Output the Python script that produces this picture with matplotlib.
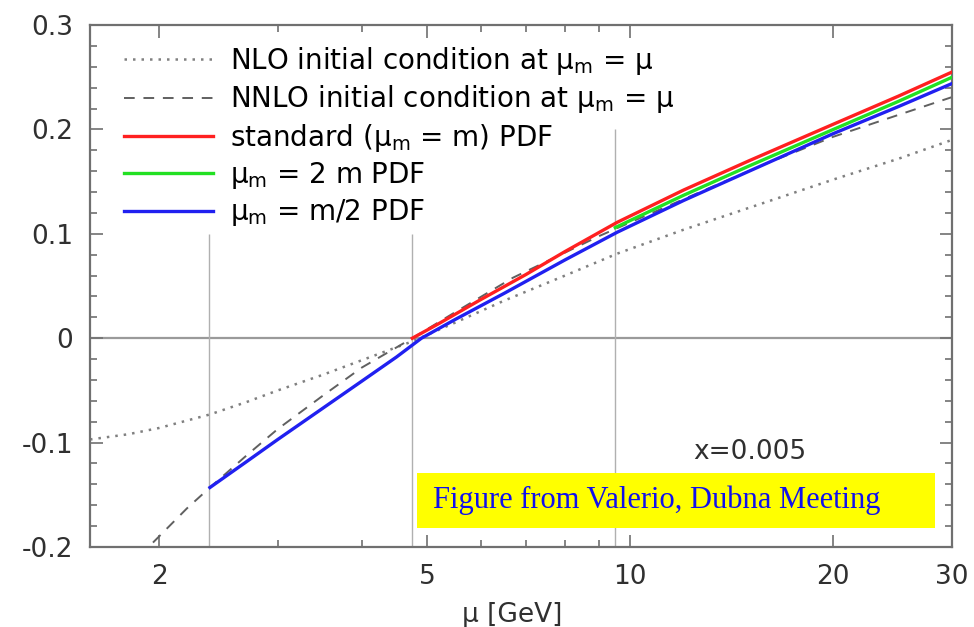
import matplotlib
matplotlib.use("Agg")
import matplotlib.pyplot as plt
from matplotlib.patches import Rectangle
from matplotlib.ticker import FixedLocator, MultipleLocator, NullFormatter, FuncFormatter

# -------------------- Data --------------------

M_HEAVY = 4.75  # threshold mass, GeV

# NLO initial condition at mu_m = mu (dotted)
nlo_mu = [1.58, 1.8, 2.0, 2.38, 2.7, 3.0, 3.5, 4.0, 4.75, 5.5, 6.5, 8.0, 9.56, 12, 16, 20, 25, 30]
nlo_val = [-0.097, -0.092, -0.086, -0.073, -0.061, -0.050, -0.035, -0.021, -0.003,
           0.015, 0.036, 0.060, 0.081, 0.104, 0.131, 0.152, 0.172, 0.190]

# NNLO initial condition at mu_m = mu (dashed)
nnlo_mu = [1.7, 1.93, 2.2, 2.38, 2.7, 3.0, 3.5, 4.0, 4.75, 5.5, 6.7, 8.0, 9.0, 10, 13, 16, 20, 25, 30]
nnlo_val = [-0.235, -0.200, -0.163, -0.143, -0.112, -0.087, -0.055, -0.028, 0.000,
            0.025, 0.058, 0.082, 0.098, 0.111, 0.143, 0.168, 0.193, 0.214, 0.231]

# standard (mu_m = m) PDF
std_mu = [4.75, 5.2, 6.0, 7.0, 8.0, 9.56, 12, 15, 20, 25, 30]
std_val = [0.000, 0.014, 0.037, 0.061, 0.083, 0.111, 0.142, 0.170, 0.205, 0.232, 0.255]

# mu_m = 2 m PDF
two_m_mu = [9.5, 12, 15, 20, 25, 30]
two_m_val = [0.106, 0.137, 0.165, 0.200, 0.227, 0.250]

# mu_m = m/2 PDF
half_m_mu = [2.38, 2.7, 3.0, 3.5, 4.0, 4.5, 4.9, 5.5, 6.5, 8.0, 9.56, 12, 15, 20, 25, 30]
half_m_val = [-0.143, -0.118, -0.097, -0.067, -0.041, -0.018, 0.000, 0.018, 0.043,
              0.075, 0.1015, 0.132, 0.160, 0.196, 0.222, 0.244]

# matching scales and the y value where each guide line stops
guide_mu = [M_HEAVY / 2, M_HEAVY, 2 * M_HEAVY]
guide_top = [0.1, 0.1, 0.2]

x_major = [2, 5, 10, 20, 30]
x_minor = [3, 4, 6, 7, 8, 9]

# -------------------- Style --------------------

plt.rcParams.update({
    "font.family": "DejaVu Sans",
    "axes.unicode_minus": False,
    "mathtext.fontset": "dejavusans",
})

FRAME = "#707070"
TEXT = "#303030"

fig = plt.figure(figsize=(9.74, 6.27), dpi=100)
ax = fig.add_axes([0.0924, 0.1276, 0.8850, 0.8324])

# guide lines
ax.axhline(0, color="#9a9a9a", linewidth=1.6, zorder=1)
ax.vlines(guide_mu, -0.2, guide_top, color="#b0b0b0", linewidth=1.0, zorder=1)

# curves
ax.plot(nlo_mu, nlo_val, color="#808080", linewidth=1.8, linestyle=(0, (1, 2.4)),
        label="NLO initial condition at μ$_\\mathrm{m}$ = μ", zorder=2)
ax.plot(nnlo_mu, nnlo_val, color="#606060", linewidth=1.4, linestyle=(0, (5.5, 4.5)),
        label="NNLO initial condition at μ$_\\mathrm{m}$ = μ", zorder=2)
ax.plot(std_mu, std_val, color="#ff2020", linewidth=2.4,
        label="standard (μ$_\\mathrm{m}$ = m) PDF", zorder=5)
ax.plot(two_m_mu, two_m_val, color="#22e022", linewidth=2.4,
        label="μ$_\\mathrm{m}$ = 2 m PDF", zorder=4)
ax.plot(half_m_mu, half_m_val, color="#2020f0", linewidth=2.4,
        label="μ$_\\mathrm{m}$ = m/2 PDF", zorder=3)

# axes
ax.set_xscale("log")
ax.set_xlim(1.58, 30)
ax.set_ylim(-0.2, 0.3)

ax.xaxis.set_major_locator(FixedLocator(x_major))
ax.xaxis.set_minor_locator(FixedLocator(x_minor))
ax.xaxis.set_major_formatter(FuncFormatter(lambda v, p: f"{v:g}"))
ax.xaxis.set_minor_formatter(NullFormatter())

ax.yaxis.set_major_locator(MultipleLocator(0.1))
ax.yaxis.set_minor_locator(MultipleLocator(0.02))
ax.yaxis.set_major_formatter(FuncFormatter(lambda v, p: f"{round(v, 2):g}"))

for side in ax.spines.values():
    side.set_color(FRAME)
    side.set_linewidth(1.6)

ax.tick_params(which="both", direction="in", top=True, right=True,
               color=FRAME, width=1.2, labelcolor=TEXT, labelsize=19)
ax.tick_params(which="major", length=9)
ax.tick_params(which="minor", length=5)
ax.tick_params(axis="y", pad=12)
ax.tick_params(axis="x", pad=12)

ax.set_xlabel("μ [GeV]", fontsize=19, color=TEXT)
ax.xaxis.set_label_coords(0.49, -0.105)

ax.legend(loc="upper left", bbox_to_anchor=(0.04, 0.962), frameon=False,
          fontsize=20, handlelength=3.2, handletextpad=0.6,
          labelspacing=0.23, borderpad=0, borderaxespad=0)

ax.text(0.765, 0.182, "x=0.005", transform=ax.transAxes, ha="center",
        va="center", fontsize=19, color=TEXT)

# annotation box
fig.add_artist(Rectangle((417 / 974, 1 - 528 / 627), 518 / 974, 55 / 627,
                         transform=fig.transFigure, facecolor="#ffff00",
                         edgecolor="none", zorder=10))
fig.text(433 / 974, 1 - 500 / 627, "Figure from Valerio, Dubna Meeting",
         family="Liberation Serif", fontsize=22, color="#1010ee",
         ha="left", va="center", zorder=11)

fig.savefig("out.png", dpi=100, facecolor="white")
